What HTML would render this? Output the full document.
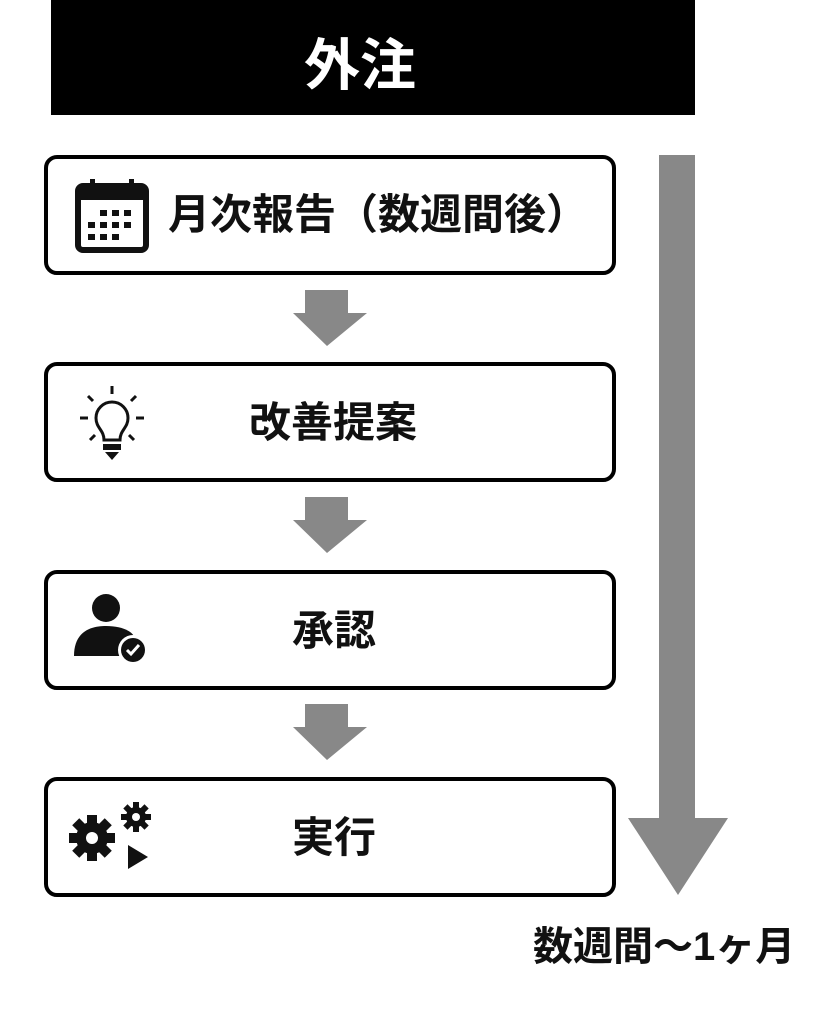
<!DOCTYPE html>
<html><head><meta charset="utf-8"><style>
body{margin:0;width:839px;height:1024px;background:#fff;position:relative;overflow:hidden;font-family:"Liberation Sans","Noto Sans CJK JP",sans-serif;font-weight:bold}
.hdr{position:absolute;left:51px;top:0;width:644px;height:115px;background:#000}
.ht{position:absolute;left:304px;top:36px;color:#fff;font-size:56px;line-height:60px;white-space:nowrap}
.box{position:absolute;left:44px;width:564px;height:112px;border:4px solid #000;border-radius:13px;background:#fff}
.t{position:absolute;font-size:42px;line-height:44px;color:#111;white-space:nowrap}
svg{position:absolute;left:0;top:0}
</style></head><body>
<div class="hdr"></div>
<div class="ht">外注</div>
<div class="box" style="top:155px"></div>
<div class="box" style="top:362px"></div>
<div class="box" style="top:570px"></div>
<div class="box" style="top:777px"></div>
<div class="t" style="left:168px;top:193px">月次報告（数週間後）</div>
<div class="t" style="left:249px;top:401px">改善提案</div>
<div class="t" style="left:292px;top:609px">承認</div>
<div class="t" style="left:292px;top:816px">実行</div>
<div class="t" style="left:533px;top:925px;font-size:40px">数週間〜1ヶ月</div>
<svg width="839" height="1024">
<g fill="#888">
<polygon points="305,290 348,290 348,313 367,313 327,346 293,313 305,313"/>
<polygon points="305,497 348,497 348,520 367,520 327,553 293,520 305,520"/>
<polygon points="305,704 348,704 348,727 367,727 327,760 293,727 305,727"/>
<polygon points="659,155 695,155 695,818 728,818 678,895 628,818 659,818"/>
</g>
<g>
<rect x="78" y="186" width="68" height="64" rx="5" fill="none" stroke="#111" stroke-width="6"/>
<rect x="78" y="186" width="68" height="14" fill="#111"/>
<rect x="90" y="179" width="5" height="14" fill="#111"/><rect x="129" y="179" width="5" height="14" fill="#111"/>
<g fill="#111">
<rect x="100" y="210" width="7" height="6"/><rect x="112" y="210" width="7" height="6"/><rect x="124" y="210" width="7" height="6"/>
<rect x="88" y="222" width="7" height="6"/><rect x="100" y="222" width="7" height="6"/><rect x="112" y="222" width="7" height="6"/><rect x="124" y="222" width="7" height="6"/>
<rect x="88" y="234" width="7" height="6"/><rect x="100" y="234" width="7" height="6"/><rect x="112" y="234" width="7" height="6"/>
</g></g>
<g stroke="#111" stroke-width="3" fill="none">
<path d="M104,440 C104,430 96,428 96,418 A16,16 0 1 1 128,418 C128,428 120,430 120,440 Z"/>
<line x1="112" y1="386" x2="112" y2="394"/><line x1="88" y1="396" x2="93" y2="401"/><line x1="136" y1="396" x2="131" y2="401"/>
<line x1="80" y1="418" x2="88" y2="418"/><line x1="136" y1="418" x2="144" y2="418"/>
<line x1="90" y1="440" x2="95" y2="435"/><line x1="134" y1="440" x2="129" y2="435"/>
</g>
<rect x="103" y="444" width="18" height="6" fill="#111"/><polygon points="105,452 119,452 112,460" fill="#111"/>
<circle cx="106" cy="608" r="14" fill="#111"/>
<path d="M74,656 C74,632 90,626 106,626 C120,626 130,630 134,636 L134,656 Z" fill="#111"/>
<circle cx="133" cy="650" r="15" fill="#fff"/><circle cx="133" cy="650" r="12" fill="#111"/>
<polyline points="127,650 131,654 139,645" fill="none" stroke="#fff" stroke-width="3"/>
<g fill="#111">
<circle cx="92" cy="838" r="16"/>
<g transform="translate(92,838)"><rect x="-5" y="-23" width="10" height="46"/><rect x="-23" y="-5" width="46" height="10"/><rect x="-5" y="-23" width="10" height="46" transform="rotate(45)"/><rect x="-5" y="-23" width="10" height="46" transform="rotate(-45)"/></g>
<circle cx="92" cy="838" r="6" fill="#fff"/>
<g transform="translate(136,817)"><circle r="10"/><rect x="-3" y="-15" width="6" height="30"/><rect x="-15" y="-3" width="30" height="6"/><rect x="-3" y="-15" width="6" height="30" transform="rotate(45)"/><rect x="-3" y="-15" width="6" height="30" transform="rotate(-45)"/><circle r="4" fill="#fff"/></g>
<polygon points="128,845 148,857 128,869"/>
</g>
</svg>
</body></html>
